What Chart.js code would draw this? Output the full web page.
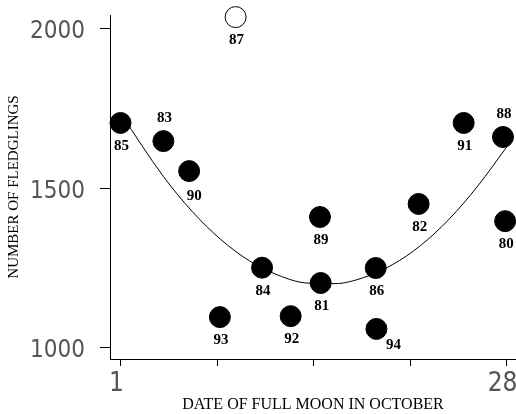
<!DOCTYPE html>
<html>
<head>
<meta charset="utf-8">
<script src="https://cdn.jsdelivr.net/npm/chart.js@4.4.0/dist/chart.umd.min.js"></script>
<style>
  html, body { margin: 0; padding: 0; background: #fff; }
  #wrap { width: 516px; height: 414px; }
</style>
</head>
<body>
<div id="wrap"><canvas id="chart"></canvas></div>
<script>
// years (labels), date of full moon, fledglings
const years = ["85", "83", "90", "87", "93", "84", "92", "81", "89", "86", "94", "82", "91", "88", "80"];
const days = [1, 4, 5.8, 9.05, 7.95, 10.9, 12.9, 15, 14.95, 18.85, 18.9, 21.85, 25, 27.75, 27.9];
const fledglings = [1705, 1648, 1554, 2037, 1096, 1251, 1099, 1203, 1410, 1250, 1059, 1451, 1705, 1661, 1397];
const openYears = ["87"];
const labelSide = ["below", "above", "belowRight", "below", "below", "below", "below", "below", "below", "below", "farRight", "below", "below", "above", "below"];

// fitted curve
const curveDays = [1, 4, 6, 8, 10, 12, 14, 16, 18, 20, 22, 24, 26, 28];
const curveValues = [1735, 1537, 1428, 1340, 1273, 1228, 1203, 1201, 1220, 1260, 1321, 1404, 1508, 1629];

const xTicks = [1, 7.75, 14.5, 21.25, 28];
const xTickLabels = ["1", "", "", "", "28"];
const yTicks = [1000, 1500, 2000];

const sideOffsets = {
  below: [1, 23],
  above: [1, -23],
  belowRight: [5, 25],
  farRight: [17, 16],
};

const pointLabels = {
  id: "pointLabels",
  afterDatasetsDraw(chart) {
    const ctx = chart.ctx;
    const meta = chart.getDatasetMeta(0);
    ctx.save();
    ctx.font = "bold 15px 'Liberation Serif', serif";
    ctx.fillStyle = "#000";
    ctx.textAlign = "center";
    ctx.textBaseline = "middle";
    meta.data.forEach((pt, i) => {
      const off = sideOffsets[labelSide[i]];
      ctx.fillText(years[i], pt.x + off[0], pt.y + off[1]);
    });
    ctx.restore();
  },
};

const tickFont = "'Liberation Sans Narrow', 'DejaVu Sans Condensed', 'DejaVu Sans', sans-serif";

const ctx = document.getElementById("chart").getContext("2d");
new Chart(ctx, {
  type: "scatter",
  data: {
    datasets: [
      {
        data: days.map((d, i) => ({ x: d, y: fledglings[i] })),
        backgroundColor: years.map((y) => (openYears.includes(y) ? "#fff" : "#000")),
        borderColor: "#000",
        borderWidth: 1,
        pointRadius: 10.5,
        clip: false,
        order: 1,
      },
      {
        type: "line",
        data: curveDays.map((d, i) => ({ x: d, y: curveValues[i] })),
        borderColor: "#000",
        borderWidth: 1,
        pointRadius: 0,
        cubicInterpolationMode: "monotone",
        fill: false,
        order: 2,
      },
    ],
  },
  options: {
    responsive: true,
    maintainAspectRatio: false,
    animation: false,
    layout: { autoPadding: false, padding: { top: 15, left: 0, right: 0, bottom: 0 } },
    plugins: {
      legend: { display: false },
      tooltip: { enabled: false },
    },
    scales: {
      x: {
        type: "linear",
        min: 0.265,
        max: 28.66,
        afterBuildTicks: (scale) => {
          scale.ticks = xTicks.map((v) => ({ value: v }));
        },
        afterFit: (scale) => {
          scale.height = 55;
          scale.paddingLeft = 0;
          scale.paddingRight = 0;
        },
        ticks: {
          autoSkip: false,
          maxRotation: 0,
          padding: 3,
          labelOffset: -4,
          color: "#555",
          font: { family: tickFont, size: 26 },
          callback: (value, index) => xTickLabels[index],
        },
        grid: { drawOnChartArea: false, drawTicks: true, tickLength: 7, color: "#000" },
        border: { display: true, color: "#000", width: 1 },
        title: {
          display: true,
          text: "DATE OF FULL MOON IN OCTOBER",
          color: "#000",
          font: { family: "'Liberation Serif', serif", size: 16 },
          padding: { top: 0, bottom: 0 },
        },
      },
      y: {
        type: "linear",
        min: 964.6,
        max: 2043.6,
        afterBuildTicks: (scale) => {
          scale.ticks = yTicks.map((v) => ({ value: v }));
        },
        afterFit: (scale) => {
          scale.width = 110;
          scale.paddingTop = 0;
          scale.paddingBottom = 0;
        },
        ticks: {
          padding: 15,
          labelOffset: 3,
          color: "#555",
          font: { family: tickFont, size: 24 },
          callback: (value) => String(value),
        },
        grid: { drawOnChartArea: false, drawTicks: true, tickLength: 10, color: "#000" },
        border: { display: true, color: "#000", width: 1 },
        title: {
          display: true,
          text: "NUMBER OF FLEDGLINGS",
          color: "#000",
          font: { family: "'Liberation Serif', serif", size: 15 },
          padding: { top: 5, bottom: 0 },
        },
      },
    },
  },
  plugins: [pointLabels],
});
</script>
</body>
</html>
